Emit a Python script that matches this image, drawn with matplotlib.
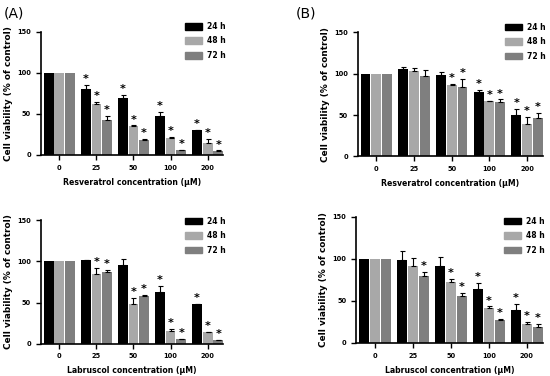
import numpy as np
import matplotlib.pyplot as plt
from matplotlib.patches import Patch

plt.rcParams['font.family'] = ['DejaVu Sans']

concs = ['0', '25', '50', '100', '200']
times = ['24 h', '48 h', '72 h']
colors = ['#000000', '#a8a8a8', '#7f7f7f']

# (A) resveratrol
resv_a_mean = [[100, 80, 70, 47, 30], [100, 62, 35, 21, 15], [100, 43, 18, 6, 5]]
resv_a_err = [[0, 5, 3, 5, 1], [0, 2.5, 1, 1, 4.5], [0, 4.5, 1.2, 0.5, 0.5]]
resv_a_star = [[0, 1, 1, 1, 1], [0, 1, 1, 1, 1], [0, 1, 1, 1, 1]]

# (B) resveratrol
resv_b_mean = [[100, 105.5, 98.5, 77.5, 50.5], [100, 103, 86, 66.5, 39.5], [100, 97.5, 84.5, 66, 47]]
resv_b_err = [[0, 3, 3, 2.5, 6.5], [0, 3.5, 2, 1, 8.5], [0, 6.5, 9.5, 3, 5.5]]
resv_b_star = [[0, 0, 0, 1, 1], [0, 0, 1, 1, 1], [0, 0, 1, 1, 1]]

# (A) labruscol
labr_a_mean = [[100, 101.5, 96, 63, 48], [100, 85, 48, 15, 14], [100, 87, 57.5, 5.5, 4]]
labr_a_err = [[0, 0.5, 6.5, 7, 0.7], [0, 7, 8, 2.5, 0.5], [0, 3, 1.5, 0.5, 0.5]]
labr_a_star = [[0, 0, 0, 1, 1], [0, 1, 1, 1, 1], [0, 1, 1, 1, 1]]

# (B) labruscol
labr_b_mean = [[100, 98.5, 92, 64, 39.5], [100, 91.5, 72.5, 41.5, 22], [100, 79.5, 56, 27, 19.5]]
labr_b_err = [[0, 11, 10, 7, 6.5], [0, 9.5, 3.5, 2, 2.5], [0, 5, 3.5, 2, 3]]
labr_b_star = [[0, 0, 0, 1, 1], [0, 0, 1, 1, 1], [0, 1, 1, 1, 1]]

panels = [
    ([0.074, 0.588, 0.332, 0.327], resv_a_mean, resv_a_err, resv_a_star,
     'Resveratrol concentration (μM)', (0.336, 0.942)),
    ([0.650, 0.584, 0.337, 0.330], resv_b_mean, resv_b_err, resv_b_star,
     'Resveratrol concentration (μM)', (0.918, 0.940)),
    ([0.074, 0.086, 0.332, 0.328], labr_a_mean, labr_a_err, labr_a_star,
     'Labruscol concentration (μM)', (0.336, 0.424)),
    ([0.647, 0.088, 0.340, 0.335], labr_b_mean, labr_b_err, labr_b_star,
     'Labruscol concentration (μM)', (0.917, 0.424)),
]

fig = plt.figure(figsize=(5.5, 3.76), dpi=100)
x = np.arange(len(concs))
w = 0.26
for rect, means, errs, stars, xlabel, leg_pos in panels:
    ax = fig.add_axes(rect)
    for i in range(3):
        xi = x + (i - 1) * 0.285
        m = np.array(means[i])
        e = np.array(errs[i])
        ax.bar(xi, m, w, color=colors[i], zorder=2)
        ax.errorbar(xi[1:], m[1:], yerr=[np.zeros(4), e[1:]], fmt='none',
                    ecolor='black', elinewidth=0.8, capsize=1.8, capthick=0.8, zorder=3)
        for j in range(len(concs)):
            if stars[i][j]:
                ax.text(xi[j], m[j] + e[j] + 1.0, '*', ha='center', va='bottom',
                        fontsize=8, fontweight='bold')
    ax.set_xlim(-0.5, 4.42)
    ax.set_ylim(0, 150)
    ax.set_yticks([0, 50, 100, 150])
    ax.set_xticks(x)
    ax.set_xticklabels(concs)
    ax.spines['top'].set_visible(False)
    ax.spines['right'].set_visible(False)
    for s in ['left', 'bottom']:
        ax.spines[s].set_linewidth(1.2)
    ax.tick_params(axis='both', width=1.0, length=3.5, labelsize=4.8, pad=3.5)
    for lab in ax.get_xticklabels() + ax.get_yticklabels():
        lab.set_fontweight('bold')
    ax.set_xlabel(xlabel, fontsize=5.6, fontweight='bold', labelpad=5)
    ax.set_ylabel('Cell viability (% of control)', fontsize=6.4, fontweight='bold', labelpad=3)
    handles = [Patch(color=c) for c in colors]
    fig.legend(handles, times, loc='upper left', bbox_to_anchor=leg_pos,
               frameon=False, prop={'size': 5.5, 'weight': 'bold'}, borderpad=0,
               borderaxespad=0, handlelength=2.2, handleheight=1.0,
               labelspacing=0.72, handletextpad=0.65)

fig.text(0.006, 0.982, '(A)', fontsize=10, va='top')
fig.text(0.538, 0.982, '(B)', fontsize=10, va='top')

fig.savefig('out.png', dpi=100)
